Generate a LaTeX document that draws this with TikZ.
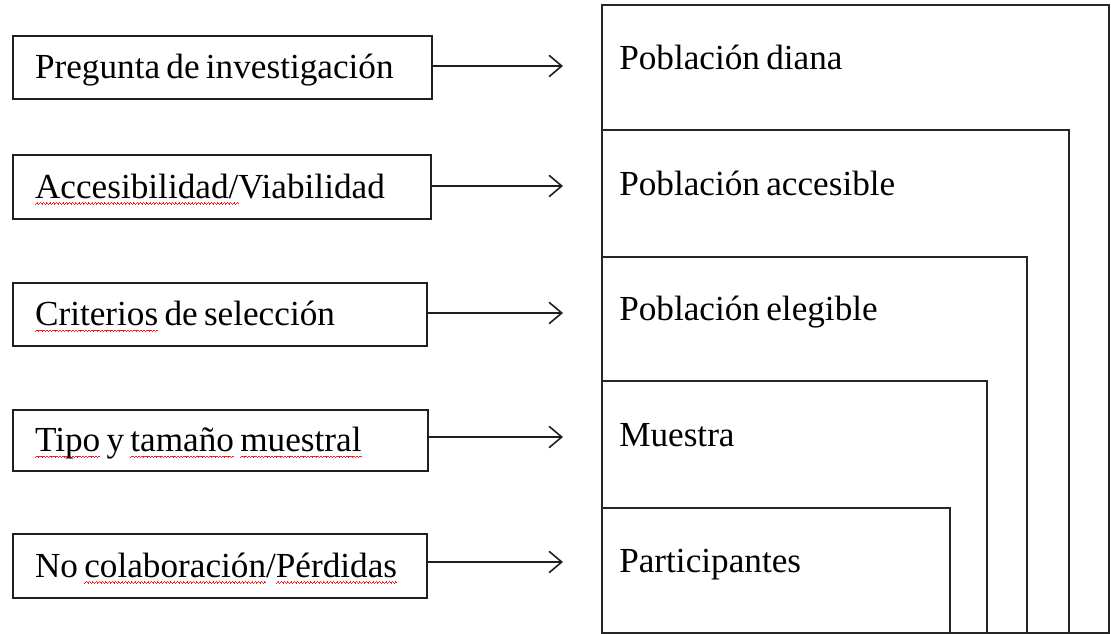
\documentclass[tikz,border=0pt]{standalone}
\usepackage{fontspec}
\setmainfont{Liberation Serif}
\usetikzlibrary{arrows.meta}
\newsavebox\errbox
\newcommand\diafont{\fontsize{26.4}{30}\selectfont\spaceskip=4.7pt plus 1pt minus 0.5pt\relax}
\newcommand\narrowsp{\spaceskip=4.7pt plus 1pt minus 0.5pt\relax}
\newcommand\wavebit{\hbox{\rule[0pt]{0.6pt}{0.65pt}\rule[0.5pt]{0.6pt}{0.65pt}\rule[1pt]{0.6pt}{0.65pt}\rule[0.5pt]{0.6pt}{0.65pt}}}
\newcommand\sperr[1]{\leavevmode\sbox\errbox{#1}\rlap{\color{red!90}\lower4.5pt\hbox to\wd\errbox{\xleaders\wavebit\hfil}}\usebox\errbox}
\begin{document}
\begin{tikzpicture}[x=0.75pt,y=-0.75pt,
  font=\diafont,
  lbox/.style={draw=black!88, line width=1.6pt, anchor=north west, inner xsep=16.5pt, inner ysep=0pt,
    align=left, text height=20pt, text depth=3pt, execute at begin node={\narrowsp}},
  rtext/.style={anchor=base west, inner sep=0pt},
  rbox/.style={draw=black!85, line width=1.1pt},
  arr/.style={draw=black!88, line width=1.2pt, -{Straight Barb[length=9.5pt,width=16pt,line width=1.2pt]}}]
\path[fill=white] (0,0) rectangle (1111,634);
\useasboundingbox (0,0) rectangle (1111,634);
% nested population boxes
\draw[rbox] (602,5) rectangle (1109,633);
\draw[rbox] (602,130) -- (1069,130) -- (1069,633);
\draw[rbox] (602,257) -- (1027,257) -- (1027,633);
\draw[rbox] (602,381) -- (987,381) -- (987,633);
\draw[rbox] (602,508) -- (950,508) -- (950,633);
\node[rtext] (r1) at (619,70) {Población diana};
\node[rtext] (r2) at (619,196) {Población accesible};
\node[rtext] (r3) at (619,321) {Población elegible};
\node[rtext] (r4) at (619,447) {Muestra};
\node[rtext] (r5) at (619,572) {Participantes};
% left boxes
\node[lbox, minimum width=314.25pt, minimum height=47.25pt, text width=281.25pt] (l1) at (12,35) {Pregunta de investigación};
\node[lbox, minimum width=313.5pt, minimum height=48pt, text width=280.5pt] (l2) at (12,154) {\sperr{Accesibilidad/}Viabilidad};
\node[lbox, minimum width=310.5pt, minimum height=47.25pt, text width=277.5pt] (l3) at (12,282) {\sperr{Criterios} de selección};
\node[lbox, minimum width=311.25pt, minimum height=45.75pt, text width=278.25pt] (l4) at (12,409) {\sperr{Tipo} y \sperr{tamaño} \sperr{muestral}};
\node[lbox, minimum width=310.5pt, minimum height=48pt, text width=277.5pt] (l5) at (12,533) {No \sperr{colaboración}/\sperr{Pérdidas}};
% arrow ends
\coordinate (c1) at (563,66);
\coordinate (c2) at (563,186);
\coordinate (c3) at (563,313);
\coordinate (c4) at (563,437);
\coordinate (c5) at (563,562);
\draw[arr] (c1 -| l1.east) -- (c1);
\draw[arr] (c2 -| l2.east) -- (c2);
\draw[arr] (c3 -| l3.east) -- (c3);
\draw[arr] (c4 -| l4.east) -- (c4);
\draw[arr] (c5 -| l5.east) -- (c5);
\end{tikzpicture}
\end{document}
